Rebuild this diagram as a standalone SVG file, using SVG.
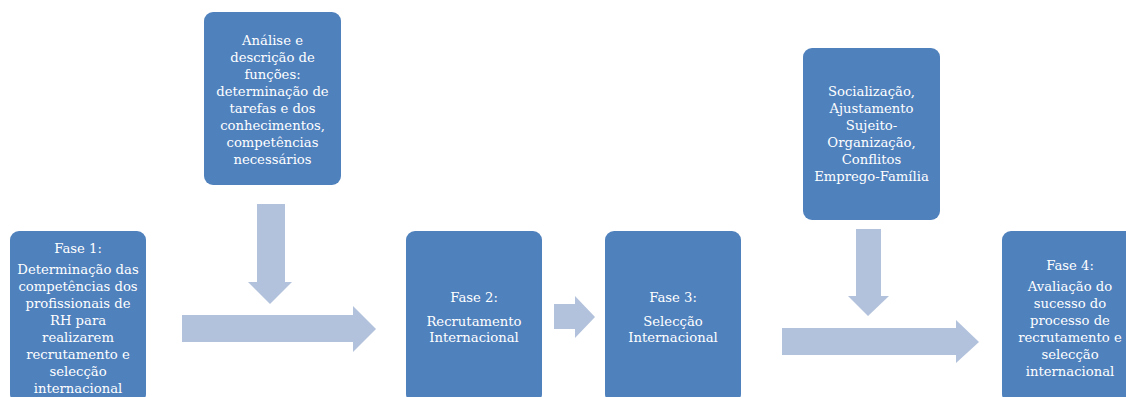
<svg xmlns="http://www.w3.org/2000/svg" width="1126" height="397" viewBox="0 0 1126 397">
<style>
.box{fill:#4F81BD}
.arr{fill:#B3C2DC}
text{font-family:"DejaVu Serif","Liberation Serif",serif;font-size:13.2px;fill:#FFFFFF;text-anchor:middle}
</style>
<rect width="1126" height="397" fill="#FFFFFF"/>
<g id="connectors">
<polygon class="arr" points="257,204 285,204 285,282 292,282 270,304 248,282 257,282"/>
<polygon class="arr" points="182,315 353,315 353,306 376,329 353,352 353,342 182,342"/>
<polygon class="arr" points="554,304 575,304 575,296 595,317 575,338 575,329 554,329"/>
<polygon class="arr" points="856,229 881,229 881,296 889,296 868,316 848,296 856,296"/>
<polygon class="arr" points="782,328 956,328 956,320 979,342 956,363 956,355 782,355"/>
</g>
<g id="fase1">
<rect class="box" x="10" y="231" width="136" height="172" rx="9"/>
<text x="78" y="253">Fase 1:</text>
<text x="78" y="274">Determinação das</text>
<text x="78" y="291">competências dos</text>
<text x="78" y="308">profissionais de</text>
<text x="78" y="325">RH para</text>
<text x="78" y="342">realizarem</text>
<text x="78" y="359">recrutamento e</text>
<text x="78" y="376">selecção</text>
<text x="78" y="393">internacional</text>
</g>
<g id="analise">
<rect class="box" x="204" y="12" width="137" height="173" rx="9"/>
<text x="272.5" y="44.5">Análise e</text>
<text x="272.5" y="61.5">descrição de</text>
<text x="272.5" y="78.5">funções:</text>
<text x="272.5" y="95.5">determinação de</text>
<text x="272.5" y="112.5">tarefas e dos</text>
<text x="272.5" y="129.5">conhecimentos,</text>
<text x="272.5" y="146.5">competências</text>
<text x="272.5" y="163.5">necessários</text>
</g>
<g id="fase2">
<rect class="box" x="406" y="231" width="136" height="172" rx="9"/>
<text x="474" y="301.5">Fase 2:</text>
<text x="474" y="326">Recrutamento</text>
<text x="474" y="342">Internacional</text>
</g>
<g id="fase3">
<rect class="box" x="605" y="231" width="136" height="172" rx="9"/>
<text x="673" y="301.5">Fase 3:</text>
<text x="673" y="326">Selecção</text>
<text x="673" y="342">Internacional</text>
</g>
<g id="socializacao">
<rect class="box" x="803" y="48" width="137" height="172" rx="9"/>
<text x="871.5" y="96">Socialização,</text>
<text x="871.5" y="113">Ajustamento</text>
<text x="871.5" y="130">Sujeito-</text>
<text x="871.5" y="147">Organização,</text>
<text x="871.5" y="164">Conflitos</text>
<text x="871.5" y="181">Emprego-Família</text>
</g>
<g id="fase4">
<rect class="box" x="1002" y="231" width="136" height="172" rx="9"/>
<text x="1070" y="270">Fase 4:</text>
<text x="1070" y="291">Avaliação do</text>
<text x="1070" y="308">sucesso do</text>
<text x="1070" y="325">processo de</text>
<text x="1070" y="342">recrutamento e</text>
<text x="1070" y="359">selecção</text>
<text x="1070" y="376">internacional</text>
</g>
</svg>
